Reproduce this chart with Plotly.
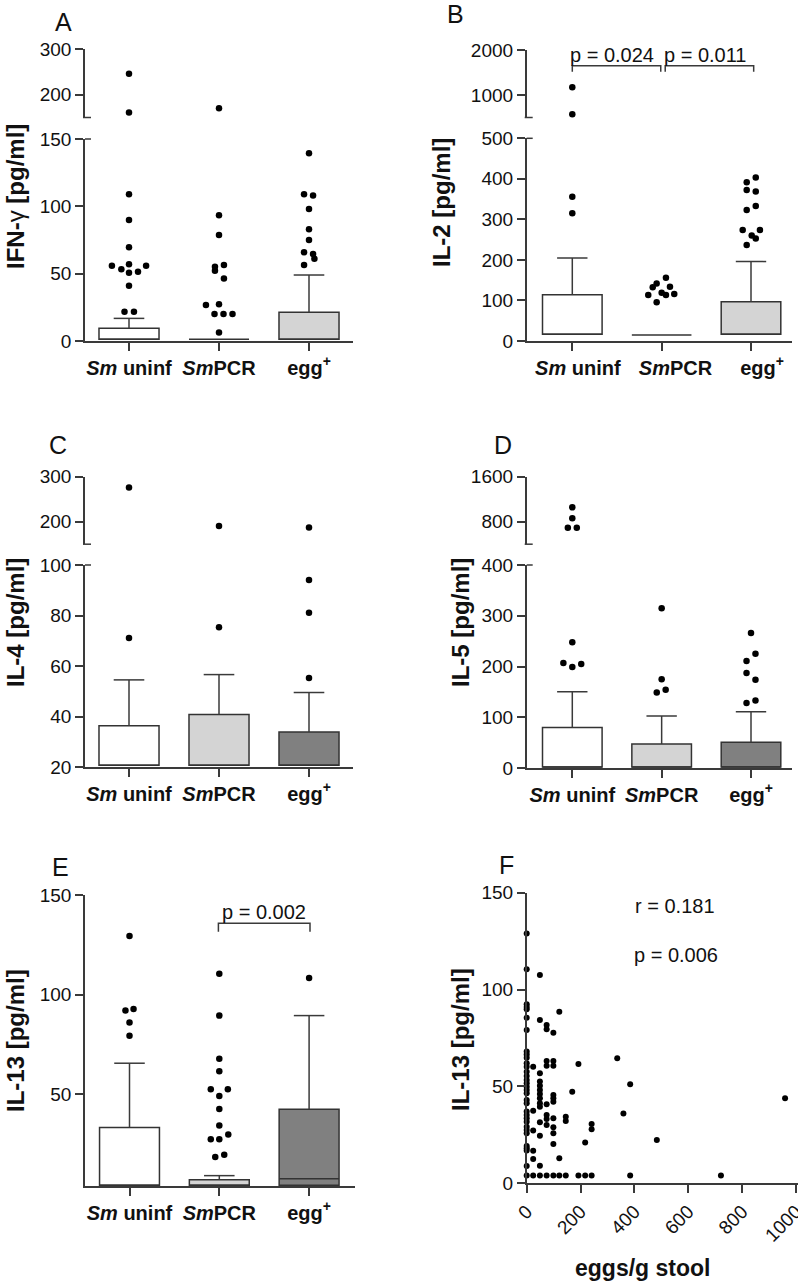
import plotly.graph_objects as go

# ---------------- data ----------------
CATS = [0, 1, 2]
CAT_LABELS = ["<b><i>Sm</i> uninf</b>", "<b><i>Sm</i>PCR</b>", "<b>egg<sup>+</sup></b>"]
# panel B prints its category labels slightly right of the ticks
CAT_LABELS_B = ["&nbsp;&nbsp;<b><i>Sm</i> uninf</b>",
                "&nbsp;&nbsp;&nbsp;&nbsp;&nbsp;<b><i>Sm</i>PCR</b>",
                "&nbsp;&nbsp;&nbsp;&nbsp;<b>egg<sup>+</sup></b>"]

# Panel A: IFN-gamma [pg/ml]
A_q1 = [1.3, 1.3, 1.3]
A_med = [1.3, 1.3, 1.3]
A_q3 = [9.4, 1.3, 21.3]
A_whisk = [16.8, 1.3, 49.0]
A_out = [[246, 161, 109, 89.8, 69.6, 55.9, 53.2, 56.9, 50.7, 51.5, 55.9, 41, 21.8, 21.8],
         [170, 93.3, 78.7, 56.4, 55.2, 52.2, 46.5, 26.7, 27.2, 20, 20, 20, 6.4],
         [139.4, 109, 108, 98, 82.9, 75, 65.9, 64.6, 61.0, 56.4]]
A_dx = [[0, 0, 0, 0, 0, -0.19, -0.085, 0, 0, 0.1, 0.19, 0, -0.05, 0.055],
        [0, 0, 0, 0.055, -0.045, -0.045, 0.055, -0.145, 0, -0.05, 0.05, 0.15, 0],
        [0, -0.055, 0.045, 0, 0, 0, -0.055, 0.045, 0.06, -0.055]]

# Panel B: IL-2 [pg/ml]
B_q1 = [16.5, 15, 16.5]
B_med = [16.5, 15, 16.5]
B_q3 = [114, 15, 97]
B_whisk = [205, 15, 196]
B_out = [[1171, 571, 356, 315],
         [156, 142, 132.5, 134, 113.5, 119, 113.5, 116, 95.5],
         [391.6, 403, 372.6, 368.5, 323, 333, 274, 274, 260, 253, 237]]
B_dx = [[0, 0, 0, 0],
        [0.048, -0.056, -0.1, 0.093, -0.15, 0, 0.048, 0.141, -0.056],
        [-0.048, 0.053, -0.048, 0.053, -0.048, 0.053, -0.093, 0.1, 0.008, 0.053, -0.048]]
B_sig = ["p = 0.024", "p = 0.011"]
B_sig_from = [0, 1.04]
B_sig_to = [0.99, 2.03]
B_sig_y = 1651
B_sig_tick = 1518
B_sig_text_y = 1889

# Panel C: IL-4 [pg/ml]
C_q1 = [20.7, 20.7, 20.7]
C_med = [20.7, 20.7, 20.7]
C_q3 = [36.3, 40.8, 33.9]
C_whisk = [54.5, 56.6, 49.5]
C_out = [[276, 71.1], [190.4, 75.3], [187, 94.1, 81.1, 55.2]]
C_dx = [[0, 0], [0, 0], [0, 0, 0, 0]]

# Panel D: IL-5 [pg/ml]
D_q1 = [2, 2, 2]
D_med = [2, 2, 2]
D_q3 = [80, 47.3, 50.6]
D_whisk = [150, 102.6, 111]
D_out = [[1056, 860, 693, 693, 248, 207, 199, 205],
         [315, 175, 149, 154],
         [266, 225, 211, 187, 174, 133, 128]]
D_dx = [[0, 0, -0.05, 0.05, 0, -0.1, 0, 0.1],
        [0, 0, -0.055, 0.045],
        [0, 0.05, -0.05, -0.05, 0.05, 0.05, -0.05]]

# Panel E: IL-13 [pg/ml]
E_q1 = [4.4, 4.4, 4.4]
E_med = [4.4, 4.4, 7.6]
E_q3 = [33.3, 7.1, 42.5]
E_whisk = [65.6, 9.2, 89.5]
E_out = [[129.4, 92, 92.8, 86, 79.4],
         [110.5, 89.5, 67.8, 61.6, 52.5, 52.5, 49.2, 42.6, 34.4, 27.4, 27.4, 29.8, 18.5, 19.7],
         [108.4]]
E_dx = [[0, -0.045, 0.045, 0, 0],
        [0, 0, 0, 0, -0.095, 0.095, 0, 0, 0, -0.095, 0, 0.1, -0.045, 0.055],
        [0]]
E_sig = "p = 0.002"
E_sig_from, E_sig_to = 0.99, 2.01
E_sig_y, E_sig_tick, E_sig_text_y = 135.8, 131.6, 141.6

# Panel F: eggs/g stool vs IL-13
F_eggs = ([0] * 33 + [24] * 6 + [49] * 14 + [74] * 9 + [99] * 11 + [121] * 3 + [145] * 3
          + [169] + [192] * 2 + [217] * 2 + [241] * 3 + [336, 359, 384, 384, 483, 721, 959])
F_il13 = ([129, 110.5, 92.4, 91, 89.8, 85.5, 79.1, 68, 66.5, 64.8, 62, 60.2, 57.6, 55.4, 53.3,
           51.6, 49.9, 48.2, 46.5, 43, 41.3, 37, 35.3, 33.6, 31.8, 29.2, 27.5, 25.8, 19.3, 18.1,
           16.9, 8.9, 4]
          + [60.2, 37.5, 27.2, 16.8, 12.5, 4]
          + [107.5, 84.3, 56.8, 52.5, 50.4, 48.2, 46.1, 43.9, 41.3, 39.5, 31.5, 24.6, 9.1, 4]
          + [81.7, 79.5, 63.1, 60.7, 40.8, 35.3, 33.2, 30.1, 4]
          + [77.7, 63.1, 60.7, 45.6, 43.9, 42.1, 33.6, 28.9, 25.8, 20.3, 4]
          + [88.6, 12.9, 4]
          + [34.4, 32.2, 4]
          + [47.3]
          + [61.6, 4]
          + [21, 4]
          + [30.6, 27.9, 4]
          + [64.5, 36, 51.1, 4, 22.3, 4, 43.9])
F_stats = ["r = 0.181", "p = 0.006"]
F_stats_x = [551, 555]
F_stats_y = [143.3, 117.9]

# ---------------- style / layout ----------------
W, H = 798, 1285
FONT = "Arial, Liberation Sans, sans-serif"
AX = "#3a3a3a"
EDGE = "#333333"
TXT = "#111111"
WHITE, LIGHT, DARK = "#ffffff", "#d4d4d4", "#808080"
BOX_W = 0.667
CAP = 0.17
TICK_FS = 19
CAT_FS = 20
TITLE_FS = 24


def px_x(x):
    return x / W


def px_y(y):
    return 1 - y / H


fig = go.Figure()
layout = dict(width=W, height=H, margin=dict(l=0, r=0, t=0, b=0, pad=0, autoexpand=False),
              autosize=False,
              paper_bgcolor="white", plot_bgcolor="rgba(0,0,0,0)",
              showlegend=False, barmode="overlay", font=dict(family=FONT, color=TXT))
annotations = []
shapes = []


def yax(y0, y1, rng, tickvals, anchor):
    return dict(domain=[px_y(y1), px_y(y0)], range=rng, tickvals=tickvals,
                ticks="outside", ticklen=8, tickwidth=1.5, tickcolor=AX,
                showline=True, linecolor=AX, linewidth=1.5, showgrid=False,
                zeroline=False, anchor=anchor, automargin=False,
                tickfont=dict(size=TICK_FS, family=FONT, color=TXT))


def xax_cat(x0, x1, cat0, sp, anchor, ticktext=CAT_LABELS):
    rng = [-(cat0 - x0) / sp, 2 + (x1 - (cat0 + 2 * sp)) / sp]
    return dict(domain=[px_x(x0), px_x(x1)], range=rng, tickvals=CATS, ticktext=ticktext,
                tickangle=0, ticklabeloverflow="allow",
                ticks="outside", ticklen=8, tickwidth=1.5, tickcolor=AX,
                showline=True, linecolor=AX, linewidth=1.5, showgrid=False,
                zeroline=False, anchor=anchor, automargin=False,
                tickfont=dict(size=CAT_FS, family=FONT, color=TXT))


def add_box_panel(xa, ylo, yhi, brk, q1, med, q3, wh, outs, dxs, fills):
    for i in CATS:
        if q3[i] > q1[i]:
            fig.add_trace(go.Bar(x=[i], y=[q3[i] - q1[i]], base=[q1[i]], width=BOX_W,
                                 marker=dict(color=fills[i], line=dict(color=EDGE, width=1.5)),
                                 xaxis=xa, yaxis=ylo, hoverinfo="skip"))
    mx, my, wx, wy = [], [], [], []
    for i in CATS:
        mx += [i - BOX_W / 2, i + BOX_W / 2, None]
        my += [med[i], med[i], None]
        if wh[i] > q3[i]:
            wx += [i, i, None, i - CAP, i + CAP, None]
            wy += [q3[i], wh[i], None, wh[i], wh[i], None]
    fig.add_trace(go.Scatter(x=mx, y=my, mode="lines", line=dict(color=EDGE, width=1.5),
                             xaxis=xa, yaxis=ylo, cliponaxis=False, hoverinfo="skip"))
    if wx:
        fig.add_trace(go.Scatter(x=wx, y=wy, mode="lines", line=dict(color=AX, width=1.5),
                                 xaxis=xa, yaxis=ylo, cliponaxis=False, hoverinfo="skip"))
    lx, ly, hx, hy = [], [], [], []
    for i in CATS:
        for v, d in zip(outs[i], dxs[i]):
            if yhi is not None and v > brk:
                hx.append(i + d); hy.append(v)
            else:
                lx.append(i + d); ly.append(v)
    mk = dict(color="black", size=6.5)
    fig.add_trace(go.Scatter(x=lx, y=ly, mode="markers", marker=mk, xaxis=xa, yaxis=ylo,
                             cliponaxis=False))
    if yhi is not None:
        fig.add_trace(go.Scatter(x=hx, y=hy, mode="markers", marker=mk, xaxis=xa, yaxis=yhi,
                                 cliponaxis=False))


def break_marks(ax_x, y_up_bottom, y_lo_top):
    for (xa, xb, yy) in [(ax_x - 2, ax_x + 6, y_up_bottom), (ax_x, ax_x + 6, y_lo_top)]:
        shapes.append(dict(type="line", xref="paper", yref="paper",
                           x0=px_x(xa), x1=px_x(xb), y0=px_y(yy), y1=px_y(yy),
                           line=dict(color=AX, width=1.5)))


def label(text, x, y, size, angle=0):
    annotations.append(dict(text=text, x=px_x(x), y=px_y(y), xref="paper", yref="paper",
                            showarrow=False, xanchor="center", yanchor="middle",
                            textangle=angle, font=dict(size=size, family=FONT, color=TXT)))


# ---- Panel A ----
layout["xaxis"] = xax_cat(85, 353, 129, 90, "y")
layout["yaxis"] = yax(139, 341, [0, 150], [0, 50, 100, 150], "x")
layout["yaxis2"] = yax(49, 117.5, [150, 300], [200, 300], "x")
add_box_panel("x", "y", "y2", 150, A_q1, A_med, A_q3, A_whisk, A_out, A_dx, [WHITE, LIGHT, LIGHT])
break_marks(85, 117.5, 139)

# ---- Panel B ----
layout["xaxis2"] = xax_cat(526.7, 792, 572.3, 89.35, "y3", CAT_LABELS_B)
layout["yaxis3"] = yax(138.3, 341, [0, 500], [0, 100, 200, 300, 400, 500], "x2")
layout["yaxis4"] = yax(50, 117.5, [500, 2000], [1000, 2000], "x2")
add_box_panel("x2", "y3", "y4", 500, B_q1, B_med, B_q3, B_whisk, B_out, B_dx, [WHITE, LIGHT, LIGHT])
break_marks(526.7, 117.5, 138.3)
bx, by = [], []
for a, b in zip(B_sig_from, B_sig_to):
    bx += [a, a, b, b, None]
    by += [B_sig_tick, B_sig_y, B_sig_y, B_sig_tick, None]
fig.add_trace(go.Scatter(x=bx, y=by, mode="lines", line=dict(color=AX, width=1.5),
                         xaxis="x2", yaxis="y4", cliponaxis=False, hoverinfo="skip"))
for t, a, b in zip(B_sig, B_sig_from, B_sig_to):
    annotations.append(dict(text=t, x=(a + b) / 2 - 0.05, y=B_sig_text_y, xref="x2", yref="y4",
                            showarrow=False, font=dict(size=TICK_FS + 1, family=FONT, color=TXT)))

# ---- Panel C ----
layout["xaxis3"] = xax_cat(85, 353, 129, 90, "y5")
layout["yaxis5"] = yax(565, 767, [20, 100], [20, 40, 60, 80, 100], "x3")
layout["yaxis6"] = yax(476.7, 544.2, [150, 300], [200, 300], "x3")
add_box_panel("x3", "y5", "y6", 150, C_q1, C_med, C_q3, C_whisk, C_out, C_dx, [WHITE, LIGHT, DARK])
break_marks(85, 544.2, 565)

# ---- Panel D ----
layout["xaxis4"] = xax_cat(526.7, 792, 572.3, 89.35, "y7")
layout["yaxis7"] = yax(565, 768, [0, 400], [0, 100, 200, 300, 400], "x4")
layout["yaxis8"] = yax(476.7, 544.2, [400, 1600], [800, 1600], "x4")
add_box_panel("x4", "y7", "y8", 400, D_q1, D_med, D_q3, D_whisk, D_out, D_dx, [WHITE, LIGHT, DARK])
break_marks(526.7, 544.2, 565)

# ---- Panel E ----
layout["xaxis5"] = xax_cat(85, 355, 129.5, 89.8, "y9")
layout["yaxis9"] = yax(895, 1186, [4, 150], [50, 100, 150], "x5")
add_box_panel("x5", "y9", None, None, E_q1, E_med, E_q3, E_whisk, E_out, E_dx, [WHITE, LIGHT, DARK])
fig.add_trace(go.Scatter(x=[E_sig_from, E_sig_from, E_sig_to, E_sig_to],
                         y=[E_sig_tick, E_sig_y, E_sig_y, E_sig_tick], mode="lines",
                         line=dict(color=AX, width=1.5), xaxis="x5", yaxis="y9",
                         cliponaxis=False, hoverinfo="skip"))
annotations.append(dict(text=E_sig, x=(E_sig_from + E_sig_to) / 2, y=E_sig_text_y, xref="x5",
                        yref="y9", showarrow=False,
                        font=dict(size=TICK_FS + 1, family=FONT, color=TXT)))

# ---- Panel F ----
layout["xaxis6"] = dict(domain=[px_x(526.7), 1.0], range=[0, 1007],
                        tickvals=[0, 200, 400, 600, 800, 1000], tickangle=-45,
                        ticks="outside", ticklen=8, tickwidth=1.5, tickcolor=AX,
                        showline=True, linecolor=AX, linewidth=1.5, showgrid=False,
                        zeroline=False, anchor="y10", automargin=False,
                        ticklabeloverflow="allow",
                        tickfont=dict(size=TICK_FS, family=FONT, color=TXT))
layout["yaxis10"] = yax(892.7, 1183.3, [0, 150], [0, 50, 100, 150], "x6")
fig.add_trace(go.Scatter(x=F_eggs, y=F_il13, mode="markers",
                         marker=dict(color="black", size=6), xaxis="x6", yaxis="y10",
                         cliponaxis=False))
for t, xv, yv in zip(F_stats, F_stats_x, F_stats_y):
    annotations.append(dict(text=t, x=xv, y=yv, xref="x6", yref="y10", showarrow=False,
                            font=dict(size=TICK_FS + 1, family=FONT, color=TXT)))

# ---- titles & panel letters ----
label("<b>IFN-</b>γ<b> [pg/ml]</b>", 15, 197, TITLE_FS, -90)
label("<b>IL-2 [pg/ml]</b>", 441, 203, TITLE_FS, -90)
label("<b>IL-4 [pg/ml]</b>", 15, 623, TITLE_FS, -90)
label("<b>IL-5 [pg/ml]</b>", 460, 623, TITLE_FS, -90)
label("<b>IL-13 [pg/ml]</b>", 15, 1041, TITLE_FS, -90)
label("<b>IL-13 [pg/ml]</b>", 460, 1040, TITLE_FS, -90)
label("<b>eggs/g stool</b>", 642, 1268, TITLE_FS - 1)
for t, x, y in [("A", 63, 22), ("B", 455, 14), ("C", 58, 445), ("D", 503, 445),
                ("E", 60, 867), ("F", 506, 865)]:
    label(t, x, y, 25)

layout["annotations"] = annotations
layout["shapes"] = shapes
fig.update_layout(**layout)
fig.write_html("out.html", config={"displayModeBar": False},
               post_script="document.body.style.margin='0';document.body.style.overflow='hidden';")
